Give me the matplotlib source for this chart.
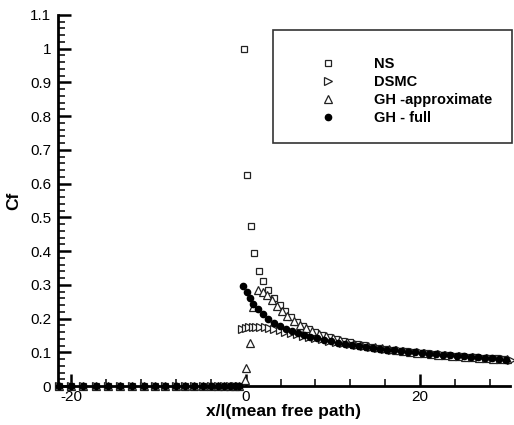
import matplotlib
matplotlib.use("Agg")
import matplotlib.pyplot as plt
from matplotlib.patches import Rectangle
from matplotlib.ticker import MultipleLocator

plt.rcParams['font.family'] = ['Liberation Sans', 'DejaVu Sans']
plt.rcParams['axes.unicode_minus'] = False

# upstream stations (flat plate not started yet, Cf = 0)
x_up = [-21.4, -20.0, -18.6, -17.2, -15.8, -14.4, -13.0, -11.7, -10.4, -9.2,
        -8.0, -6.9, -5.9, -4.9, -4.0, -3.2, -2.5, -1.8, -1.2, -0.7]
cf_up = [0.0] * len(x_up)

# NS
x_ns = [-0.2, 0.2, 0.6, 1.0, 1.5, 2.0, 2.6, 3.2, 3.9, 4.5, 5.2, 5.9, 6.6, 7.3,
        8.0, 8.8, 9.6, 10.4, 11.2, 12.0, 12.8, 13.6, 14.4, 15.2, 16.0, 16.8,
        17.6, 18.4, 19.2, 20.0, 20.8, 21.6, 22.4, 23.2, 24.0, 24.8, 25.6,
        26.4, 27.2, 28.0, 28.8, 29.6]
cf_ns = [1.0, 0.625, 0.475, 0.395, 0.34, 0.31, 0.285, 0.262, 0.24, 0.222,
         0.205, 0.19, 0.178, 0.168, 0.16, 0.152, 0.145, 0.139, 0.134, 0.129,
         0.125, 0.121, 0.117, 0.114, 0.111, 0.108, 0.105, 0.103, 0.101, 0.099,
         0.097, 0.095, 0.093, 0.091, 0.09, 0.088, 0.087, 0.085, 0.084, 0.083,
         0.082, 0.081]

# DSMC
x_dsmc = [-0.4, 0.0, 0.4, 0.8, 1.2, 1.7, 2.2, 2.7, 3.3, 3.9, 4.5, 5.2, 5.9,
          6.6, 7.3, 8.0, 8.8, 9.6, 10.4, 11.2, 12.0, 12.8, 13.6, 14.4, 15.2,
          16.0, 16.8, 17.6, 18.4, 19.2, 20.0, 20.8, 21.6, 22.4, 23.2, 24.0,
          24.8, 25.6, 26.4, 27.2, 28.0, 28.8, 29.6, 30.4]
cf_dsmc = [0.168, 0.172, 0.175, 0.176, 0.176, 0.175, 0.174, 0.172, 0.169,
           0.165, 0.161, 0.157, 0.153, 0.149, 0.145, 0.142, 0.138, 0.134,
           0.131, 0.128, 0.125, 0.122, 0.119, 0.116, 0.113, 0.111, 0.108,
           0.106, 0.104, 0.102, 0.1, 0.098, 0.096, 0.094, 0.092, 0.09, 0.089,
           0.087, 0.086, 0.084, 0.083, 0.081, 0.08, 0.078]

# GH - approximate
x_gha = [-0.1, 0.1, 0.46, 0.8, 1.4, 2.0, 2.5, 3.0, 3.6, 4.2, 4.8, 5.5, 6.2,
         6.9, 7.6, 8.4, 9.2, 10.0, 10.8, 11.6, 12.4, 13.2, 14.0, 14.8, 15.6,
         16.4, 17.2, 18.0, 18.8, 19.6, 20.4, 21.2, 22.0, 22.8, 23.6, 24.4,
         25.2, 26.0, 26.8, 27.6, 28.4, 29.2, 30.0]
cf_gha = [0.018, 0.053, 0.128, 0.235, 0.285, 0.28, 0.27, 0.255, 0.238, 0.222,
          0.207, 0.193, 0.181, 0.171, 0.162, 0.154, 0.147, 0.141, 0.135,
          0.13, 0.126, 0.122, 0.118, 0.115, 0.112, 0.109, 0.106, 0.104,
          0.101, 0.099, 0.097, 0.095, 0.093, 0.091, 0.09, 0.088, 0.087,
          0.085, 0.084, 0.083, 0.081, 0.08, 0.079]

# GH - full
x_ghf = [-0.3, 0.15, 0.45, 0.9, 1.4, 2.0, 2.6, 3.2, 3.9, 4.6, 5.3, 6.0, 6.7,
         7.4, 8.2, 9.0, 9.8, 10.6, 11.4, 12.2, 13.0, 13.8, 14.6, 15.4, 16.2,
         17.0, 17.8, 18.6, 19.4, 20.2, 21.0, 21.8, 22.6, 23.4, 24.2, 25.0,
         25.8, 26.6, 27.4, 28.2, 29.0, 29.8]
cf_ghf = [0.297, 0.279, 0.261, 0.243, 0.228, 0.212, 0.199, 0.188, 0.178,
          0.17, 0.163, 0.157, 0.151, 0.146, 0.141, 0.136, 0.132, 0.128, 0.125,
          0.122, 0.119, 0.116, 0.113, 0.11, 0.108, 0.106, 0.104, 0.102, 0.1,
          0.098, 0.096, 0.094, 0.093, 0.091, 0.089, 0.088, 0.086, 0.085,
          0.083, 0.082, 0.08, 0.078]

fig = plt.figure(figsize=(5.14, 4.25), dpi=100)
ax = fig.add_axes([58 / 514, 1 - 386 / 425, 452 / 514, 371 / 425])

ms_open = dict(markerfacecolor='white', markeredgecolor='#222222',
               markeredgewidth=0.9, linestyle='none', clip_on=False)

ax.plot(x_up + x_ns, cf_up + cf_ns, marker='s', markersize=5, label='NS', **ms_open)
ax.plot(x_up + x_dsmc, cf_up + cf_dsmc, marker='>', markersize=5.5, label='DSMC', **ms_open)
ax.plot(x_up + x_gha, cf_up + cf_gha, marker='^', markersize=5.5, label='GH -approximate', **ms_open)
ax.plot(x_up + x_ghf, cf_up + cf_ghf, marker='o', markersize=4.5, color='black',
        linestyle='none', clip_on=False, label='GH - full')

ax.set_xlim(-21.5, 30.3)
ax.set_ylim(0, 1.1)

for s in ['top', 'right']:
    ax.spines[s].set_visible(False)
for s in ['left', 'bottom']:
    ax.spines[s].set_linewidth(2)

ax.xaxis.set_major_locator(MultipleLocator(20))
ax.xaxis.set_minor_locator(MultipleLocator(4))
ax.yaxis.set_major_locator(MultipleLocator(0.1))
ax.yaxis.set_minor_locator(MultipleLocator(0.02))
ax.tick_params(which='major', direction='in', length=9, width=1.8, labelsize=11, pad=5)
ax.tick_params(which='minor', direction='in', length=5, width=1.1)
ax.set_yticks([0, 0.1, 0.2, 0.3, 0.4, 0.5, 0.6, 0.7, 0.8, 0.9, 1.0, 1.1])
ax.set_yticklabels(['0', '0.1', '0.2', '0.3', '0.4', '0.5', '0.6', '0.7',
                    '0.8', '0.9', '1', '1.1'])
ax.tick_params(axis='x', pad=3)

ax.set_xlabel('x/l(mean free path)', fontsize=12.5, fontweight='bold', labelpad=0)
ax.set_ylabel('Cf', fontsize=12.5, fontweight='bold', labelpad=6)

# legend with a square frame
fig.patches.append(Rectangle((273 / 514, 1 - 143 / 425), 239 / 514, 113 / 425,
                             transform=fig.transFigure, fill=False,
                             edgecolor='#333333', linewidth=1.2))
leg = ax.legend(loc='upper left', bbox_to_anchor=(310 / 514, 1 - 50 / 425),
                bbox_transform=fig.transFigure, frameon=False,
                prop={'weight': 'bold', 'size': 10.5}, handletextpad=2.4,
                labelspacing=0.27, handlelength=1.5, borderpad=0)

fig.savefig('out.png', dpi=100)
